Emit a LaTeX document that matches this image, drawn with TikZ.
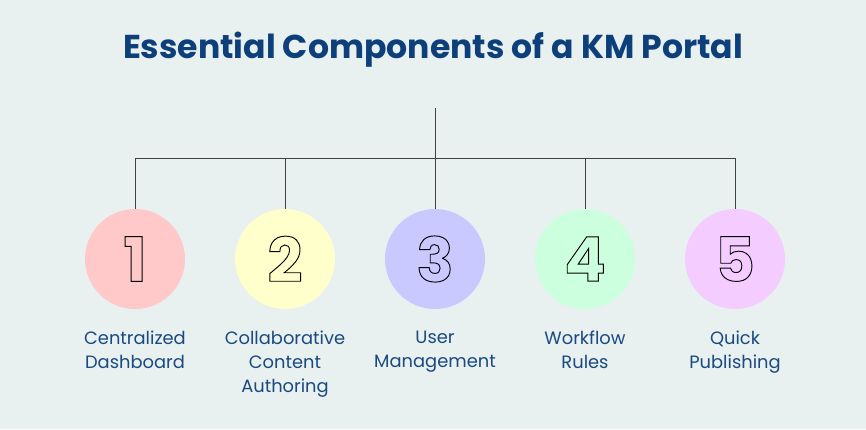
\documentclass[tikz,border=0pt]{standalone}
\usepackage{fontspec}
\setmainfont{Poppins}
\definecolor{bg}{HTML}{E8F0F0}
\definecolor{ttl}{HTML}{0D3F7A}
\definecolor{lbl}{HTML}{1A4A80}
\definecolor{c1}{HTML}{FFC9C9}
\definecolor{c2}{HTML}{FFFFCC}
\definecolor{c3}{HTML}{C9C9FF}
\definecolor{c4}{HTML}{CCFFDD}
\definecolor{c5}{HTML}{F5CCFF}
\newcommand{\outl}[1]{\special{pdf:code 1 Tr 0.7 w}#1\special{pdf:code 0 Tr}}
\tikzset{dot/.style={circle,minimum size=75pt,inner sep=0pt},
num/.style={font=\bfseries\fontsize{46}{46}\selectfont},
lab/.style={font=\fontsize{13.4}{18.2}\selectfont,text=lbl,align=center,anchor=north},
ln/.style={draw=black!75,line width=0.6pt}}
\begin{document}
\begin{tikzpicture}[x=0.75pt,y=-0.75pt]
\fill[bg] (0,0) rectangle (866,429);
\useasboundingbox (0,0) rectangle (866,429);
\node[font=\bfseries\fontsize{24.8}{28}\selectfont,text=ttl] (title) at (433,50) {Essential Components of a KM Portal};
\coordinate (top) at (435,108);
\coordinate (mid) at (435,158);
\foreach \i/\x/\c in {1/135/c1,2/285/c2,3/435/c3,4/585/c4,5/735/c5}{
  \node[dot,fill=\c] (d\i) at (\x,259) {};
  \node[num] at (d\i) {\outl{\i}};
  \coordinate (h\i) at (\x,158);
  \draw[ln] (h\i) -- (d\i.north);
}
\draw[ln] (top) -- (mid);
\draw[ln] (h1) -- (h5);
\node[lab] (l1) at (135,326) {Centralized\\Dashboard};
\node[lab] (l2) at (285,326) {Collaborative\\Content\\Authoring};
\node[lab] (l3) at (435,326) {User\\Management};
\node[lab] (l4) at (585,326) {Workflow\\Rules};
\node[lab] (l5) at (735,326) {Quick\\Publishing};
\end{tikzpicture}
\end{document}
